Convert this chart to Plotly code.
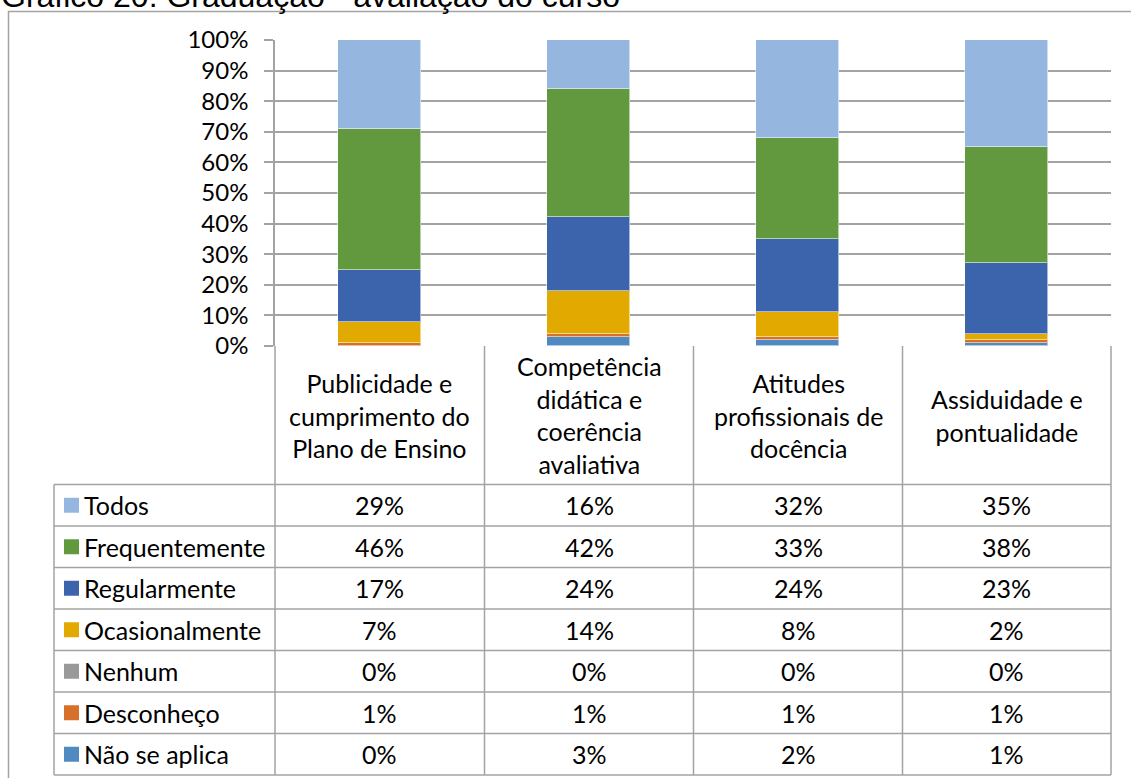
import plotly.graph_objects as go

# ---------------- data ----------------
categories = ["Publicidade e cumprimento do Plano de Ensino",
              "Competência didática e coerência avaliativa",
              "Atitudes profissionais de docência",
              "Assiduidade e pontualidade"]
category_labels = ["Publicidade e<br>cumprimento do<br>Plano de Ensino",
                   "Competência<br>didática e<br>coerência<br>avaliativa",
                   "Atitudes<br>profissionais de<br>docência",
                   "Assiduidade e<br>pontualidade"]

series_names = ["Todos", "Frequentemente", "Regularmente", "Ocasionalmente",
                "Nenhum", "Desconheço", "Não se aplica"]
todos = [29, 16, 32, 35]
frequentemente = [46, 42, 33, 38]
regularmente = [17, 24, 24, 23]
ocasionalmente = [7, 14, 8, 2]
nenhum = [0, 0, 0, 0]
desconheco = [1, 1, 1, 1]
nao_se_aplica = [0, 3, 2, 1]
series_values = [todos, frequentemente, regularmente, ocasionalmente,
                 nenhum, desconheco, nao_se_aplica]
series_colors = ["#95B7DF", "#62993E", "#3C64AD", "#E2AA00",
                 "#999999", "#D6702B", "#4F8BC1"]

ytick_vals = [i / 10 for i in range(11)]
ytick_text = [f"{i*10}%" for i in range(11)]

title_text = "Gráfico 20: Graduação - avaliação do curso"

# ---------------- layout geometry ----------------
W, H = 1131, 778
L, R, T, B = 275, 20, 40, 432
PW = W - L - R
PH = H - T - B
FONT = "Lato"
FS = 25
GRID = "#A3A3A3"


def px(x):
    return (x - L) / PW


def py(y):
    return (H - B - y) / PH


fig = go.Figure()
x_idx = list(range(len(categories)))
# stacked from bottom to top
for name, vals, col in reversed(list(zip(series_names, series_values, series_colors))):
    fig.add_trace(go.Bar(
        x=x_idx, y=[v / 100 for v in vals], name=name,
        marker=dict(color=col, line=dict(color="rgba(255,255,255,0.55)", width=1)),
        width=0.4, showlegend=False, hoverinfo="skip"))

shapes = []
line = dict(color=GRID, width=1.5)
# outer chart border
shapes.append(dict(type="rect", xref="paper", yref="paper",
                   x0=px(8.5), x1=px(1145), y0=py(11.5), y1=py(800),
                   line=dict(color=GRID, width=1.5)))
# table vertical lines
col_edges = [275, 484.5, 693.5, 902.5, 1111]
row_edges = [484.5, 526, 567.5, 609, 650.5, 692, 733.5, 775]
for xe in col_edges:
    shapes.append(dict(type="line", xref="paper", yref="paper",
                       x0=px(xe), x1=px(xe), y0=py(346), y1=py(775), line=line))
shapes.append(dict(type="line", xref="paper", yref="paper",
                   x0=px(54), x1=px(54), y0=py(row_edges[0]), y1=py(775), line=line))
for ye in row_edges:
    shapes.append(dict(type="line", xref="paper", yref="paper",
                       x0=px(54), x1=px(1111), y0=py(ye), y1=py(ye), line=line))

annotations = []
# title (partly cut off at the top)
annotations.append(dict(text=title_text, xref="paper", yref="paper",
                        x=px(-1), y=py(16), xanchor="left", yanchor="bottom",
                        showarrow=False,
                        font=dict(family="Liberation Sans", size=32, color="#000000")))
# category header cells
for i, lab in enumerate(category_labels):
    cx = (col_edges[i] + col_edges[i + 1]) / 2
    annotations.append(dict(text=lab, xref="paper", yref="paper",
                            x=px(cx), y=py(415), xanchor="center", yanchor="middle",
                            showarrow=False, align="center",
                            font=dict(family=FONT, size=FS, color="#000000")))
# legend rows and values
for r, (name, vals, col) in enumerate(zip(series_names, series_values, series_colors)):
    cy = (row_edges[r] + row_edges[r + 1]) / 2
    shapes.append(dict(type="rect", xref="paper", yref="paper",
                       x0=px(64), x1=px(79), y0=py(cy - 7.5), y1=py(cy + 7.5),
                       fillcolor=col, line=dict(width=0)))
    annotations.append(dict(text=name, xref="paper", yref="paper",
                            x=px(82), y=py(cy), xanchor="left", yanchor="middle",
                            showarrow=False,
                            font=dict(family=FONT, size=FS, color="#000000")))
    for i, v in enumerate(vals):
        cx = (col_edges[i] + col_edges[i + 1]) / 2
        annotations.append(dict(text=f"{v}%", xref="paper", yref="paper",
                                x=px(cx), y=py(cy), xanchor="center", yanchor="middle",
                                showarrow=False,
                                font=dict(family=FONT, size=FS, color="#000000")))

fig.update_layout(
    width=W, height=H,
    margin=dict(l=L, r=R, t=T, b=B, pad=0),
    paper_bgcolor="white", plot_bgcolor="white",
    barmode="stack", bargap=0,
    shapes=shapes, annotations=annotations,
    xaxis=dict(range=[-0.5, 3.5], showticklabels=False, showgrid=False,
               zeroline=False, showline=False, ticks="", fixedrange=True),
    yaxis=dict(range=[0, 1], tickvals=ytick_vals, ticktext=ytick_text,
               showgrid=True, gridcolor=GRID, gridwidth=1.5,
               zeroline=False, showline=True, linecolor=GRID, linewidth=1.5,
               ticks="outside", ticklen=9, tickcolor=GRID, tickwidth=1.5,
               ticklabelstandoff=11, fixedrange=True,
               tickfont=dict(family=FONT, size=24, color="#000000")),
    font=dict(family=FONT, size=FS, color="#000000"),
)

fig.write_html("out.html", config={"displayModeBar": False},
               post_script="document.body.style.margin='0';document.body.style.overflow='hidden';")
